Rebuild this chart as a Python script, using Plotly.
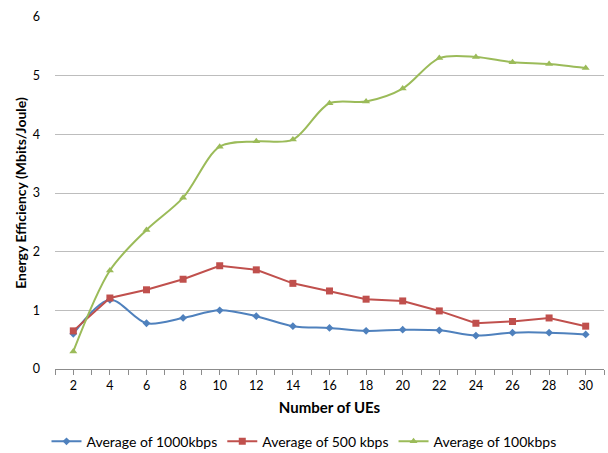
import plotly.graph_objects as go

# Number of UEs
ues = [2, 4, 6, 8, 10, 12, 14, 16, 18, 20, 22, 24, 26, 28, 30]

# Energy efficiency (Mbits/Joule) per traffic rate
avg_1000kbps = [0.60, 1.18, 0.78, 0.87, 1.00, 0.90, 0.73, 0.70, 0.65, 0.67, 0.66, 0.57, 0.62, 0.62, 0.59]
avg_500kbps = [0.65, 1.21, 1.35, 1.53, 1.76, 1.69, 1.46, 1.33, 1.19, 1.16, 0.99, 0.78, 0.81, 0.87, 0.73]
avg_100kbps = [0.30, 1.68, 2.37, 2.92, 3.79, 3.88, 3.91, 4.53, 4.56, 4.78, 5.30, 5.32, 5.23, 5.20, 5.13]

# x-axis ticks: a mark at every integer, a label at every even number
x_tick_vals = list(range(1, 32))
x_tick_text = [str(v) if v % 2 == 0 else "" for v in x_tick_vals]
y_tick_vals = [0, 1, 2, 3, 4, 5, 6]

FONT = "Lato"
GRID = "#BDBDBD"
AXIS = "#8C8C8C"

fig = go.Figure()
fig.add_trace(go.Scatter(
    x=ues, y=avg_1000kbps, name="Average of 1000kbps",
    mode="lines+markers", line=dict(color="#4F81BD", width=2, shape="spline", smoothing=0.9),
    marker=dict(symbol="diamond", size=6, color="#4F81BD"),
))
fig.add_trace(go.Scatter(
    x=ues, y=avg_500kbps, name="Average of 500 kbps",
    mode="lines+markers", line=dict(color="#C0504D", width=2),
    marker=dict(symbol="square", size=7, color="#C0504D"),
))
fig.add_trace(go.Scatter(
    x=ues, y=avg_100kbps, name="Average of 100kbps",
    mode="lines+markers", line=dict(color="#9BBB59", width=2, shape="spline", smoothing=0.9),
    marker=dict(symbol="triangle-up", size=7, color="#9BBB59"),
))

fig.update_layout(
    width=608, height=453,
    margin=dict(l=55, r=4, t=17, b=84, autoexpand=False),
    paper_bgcolor="white", plot_bgcolor="white",
    font=dict(family=FONT, size=12, color="#000000"),
    showlegend=True,
    legend=dict(
        orientation="h", xref="container", x=0.5, xanchor="center",
        yref="container", y=0.025, yanchor="middle",
        font=dict(size=14), itemwidth=30, traceorder="normal",
    ),
)
fig.update_xaxes(
    range=[1, 31], tickmode="array", tickvals=x_tick_vals, ticktext=x_tick_text,
    ticks="outside", ticklen=5, tickcolor=AXIS, tickwidth=1,
    showline=True, linecolor=AXIS, linewidth=1, showgrid=False, zeroline=False,
    tickfont=dict(size=12.5),
    title=dict(text="<b>Number of UEs</b>", font=dict(size=15), standoff=10),
)
fig.update_yaxes(
    range=[0, 6], tickmode="array", tickvals=y_tick_vals,
    showgrid=True, gridcolor=GRID, gridwidth=1, zeroline=False, showline=False,
    ticks="", tickfont=dict(size=12.5), ticklabelstandoff=14,
    title=dict(text="<b>Energy Efficiency (Mbits/Joule)</b>", font=dict(size=14), standoff=2),
)

fig.write_html("out.html")
